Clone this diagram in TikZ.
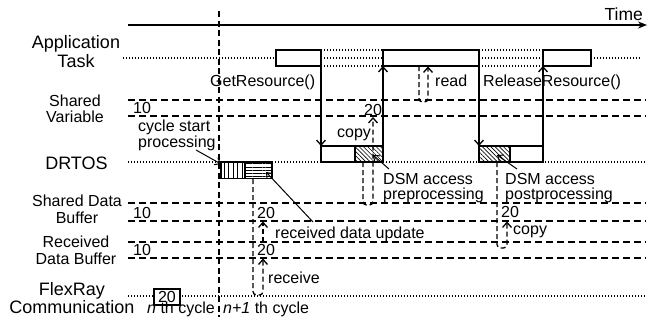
\documentclass[tikz,border=0pt]{standalone}
\usepackage{fontspec}
\setmainfont{Liberation Sans}
\usetikzlibrary{arrows.meta,patterns.meta}
\begin{document}
\begin{tikzpicture}[x=1pt,y=-1pt,
  biglabel/.style={font=\fontsize{18}{19}\selectfont, align=center, anchor=base, inner sep=0pt},
  midlabel/.style={font=\fontsize{16}{16.2}\selectfont, align=center, anchor=base, inner sep=0pt},
  note/.style={font=\fontsize{16}{15.5}\selectfont, align=left, anchor=base west, inner sep=0pt},
  lanedash/.style={line width=1.2pt, dash pattern=on 7pt off 4pt},
  lanedot/.style={line width=1.2pt, dash pattern=on 1.2pt off 1.8pt},
  boxstyle/.style={draw, line width=1.8pt, fill=white, anchor=north west, inner sep=0pt, outer sep=0pt},
  barb/.style={-{Straight Barb[length=5pt,width=9pt,line width=1.3pt]}},
  call/.style={line width=1.5pt, barb},
  flow/.style={line width=1.3pt, dash pattern=on 5pt off 3pt, rounded corners=3.5pt, barb},
  pointer/.style={line width=1pt, -{Straight Barb[length=5pt,width=8pt,line width=1pt]}},
  hatchD/.style={pattern={Lines[angle=-45,distance=3pt,line width=0.6pt]}},
  hatchV/.style={pattern={Lines[angle=90,distance=4.4pt,line width=0.8pt]}},
  hatchH/.style={pattern={Lines[angle=0,distance=3.3pt,line width=0.8pt]}}
]
\useasboundingbox (0,0) rectangle (652,322);

% time axis
\coordinate (ta) at (128,25);
\coordinate (tb) at (647,25);
\draw[line width=1.3pt, -{Stealth[length=9pt,width=7pt]}] (ta) -- (tb);
\node[biglabel, anchor=base east, font=\fontsize{17.5}{18}\selectfont] (time) at (643,20) {Time};

% cycle boundary
\coordinate (cb0) at (219,11);
\coordinate (cb1) at (219,317);
\draw[line width=1.2pt, dash pattern=on 6pt off 3.5pt] (cb0) -- (cb1);

% lane labels (anchored at the baseline of the last line)
\node[biglabel] (lapp) at (76,67) {Application\\Task};
\node[midlabel] (lsv) at (75,122.5) {Shared\\Variable};
\node[biglabel] (ldrtos) at (76.5,169) {DRTOS};
\node[midlabel] (lsdb) at (77,223) {Shared Data\\Buffer};
\node[midlabel] (lrdb) at (76,264) {Received\\Data Buffer};
\node[biglabel, font=\fontsize{18}{17.5}\selectfont] (lfr) at (72,313) {FlexRay\\Communication};

% shared variable lanes
\coordinate (sv1a) at (128,100); \coordinate (sv1b) at (646,100);
\coordinate (sv2a) at (128,116); \coordinate (sv2b) at (646,116);
\draw[lanedash] (sv1a) -- (sv1b);
\draw[lanedash] (sv2a) -- (sv2b);
% shared data buffer lanes
\coordinate (sd1a) at (128,203); \coordinate (sd1b) at (646,203);
\coordinate (sd2a) at (128,221); \coordinate (sd2b) at (646,221);
\draw[lanedash] (sd1a) -- (sd1b);
\draw[lanedash] (sd2a) -- (sd2b);
% received data buffer lanes
\coordinate (rd1a) at (128,242); \coordinate (rd1b) at (646,242);
\coordinate (rd2a) at (128,258); \coordinate (rd2b) at (646,258);
\draw[lanedash] (rd1a) -- (rd1b);
\draw[lanedash] (rd2a) -- (rd2b);
% DRTOS lane
\coordinate (dra) at (128,162); \coordinate (drb) at (646,162);
\draw[lanedot] (dra) -- (drb);
% FlexRay lane
\coordinate (fra) at (128,296); \coordinate (frb) at (646,296);
\draw[lanedot] (fra) -- (frb);

% application task lane
\coordinate (ap0) at (123,58);
\node[boxstyle, minimum width=45pt, minimum height=16pt] (task1) at (276,50) {};
\node[boxstyle, minimum width=96pt, minimum height=16pt] (task2) at (383,50) {};
\node[boxstyle, minimum width=48pt, minimum height=16pt] (task3) at (543,50) {};
\coordinate (ap9) at (641,58);
\draw[lanedot] (ap0) -- (task1.west);
\draw[lanedot] (task3.east) -- (ap9);
\draw[lanedot] (task1.north east) -- (task2.north west);
\draw[lanedot] (task1.east) -- (task2.west);
\draw[lanedot] (task1.south east) -- (task2.south west);
\draw[lanedot] (task2.north east) -- (task3.north west);
\draw[lanedot] (task2.east) -- (task3.west);
\draw[lanedot] (task2.south east) -- (task3.south west);

% DRTOS boxes
\node[boxstyle, minimum width=34pt, minimum height=16pt] (d1a) at (321,146) {};
\node[boxstyle, hatchD, minimum width=28pt, minimum height=16pt] (d1b) at (355,146) {};
\node[boxstyle, hatchD, minimum width=31pt, minimum height=16pt] (d2a) at (479,146) {};
\node[boxstyle, minimum width=33pt, minimum height=16pt] (d2b) at (510,146) {};
% cycle start processing boxes
\node[boxstyle, hatchV, minimum width=24pt, minimum height=16.5pt] (c1) at (221,162) {};
\node[boxstyle, hatchH, minimum width=27pt, minimum height=16.5pt] (c2) at (245,162) {};
% FlexRay frame
\node[draw, line width=1.8pt, fill=white, anchor=north west, inner sep=0pt,
      minimum width=26pt, minimum height=16pt, font=\fontsize{16}{16}\selectfont] (frame) at (153,288) {20};

% service calls
\draw[call] (task1.south east) -- (d1a.north west);
\draw[call] (d1b.north east) -- (task2.south west);
\draw[call] (task2.south east) -- (d2a.north west);
\draw[call] (d2b.north east) -- (task3.south west);

% data flows
\coordinate (rv0) at (253,179); \coordinate (rv1) at (253,295);
\coordinate (rv2) at (263,295); \coordinate (rv3) at (263,258.5);
\draw[flow] (rv0) -- (rv1) -- (rv2) -- (rv3);
\coordinate (up0) at (263,242); \coordinate (up1) at (263,221.5);
\draw[flow] (up0) -- (up1);
\coordinate (rd0) at (419,66); \coordinate (rdm1) at (419,102);
\coordinate (rdm2) at (428,102); \coordinate (rd3) at (428,66.5);
\draw[flow] (rd0) -- (rdm1) -- (rdm2) -- (rd3);
\coordinate (cp0) at (363,162); \coordinate (cp1) at (363,205);
\coordinate (cp2) at (373,205); \coordinate (cp3) at (373,117);
\draw[flow] (cp0) -- (cp1) -- (cp2) -- (cp3);
\coordinate (cq0) at (497,162); \coordinate (cq1) at (497,248);
\coordinate (cq2) at (507,248); \coordinate (cq3) at (507,221.5);
\draw[flow] (cq0) -- (cq1) -- (cq2) -- (cq3);

% values
\node[note] (v10a) at (133,113) {10};
\node[note] (v10b) at (133,218) {10};
\node[note] (v10c) at (133,255) {10};
\node[note] (v20a) at (364,115) {20};
\node[note] (v20b) at (257,218) {20};
\node[note] (v20c) at (257,255) {20};
\node[note] (v20d) at (501,217.5) {20};

% annotations (multi-line: anchored at the last line's baseline)
\node[note] (getres) at (210,86.5) {GetResource()};
\node[note] (relres) at (483,86.5) {ReleaseResource()};
\node[note] (read) at (435,86.5) {read};
\node[note] (copyA) at (337,137) {copy};
\node[note] (copyB) at (513,234) {copy};
\node[note] (receive) at (268,283) {receive};
\node[note] (rdupd) at (275,238.5) {received data update};
\node[note] (cyc) at (138,147) {cycle start\\processing};
\node[note] (pre) at (383,199.5) {DSM access\\preprocessing};
\node[note] (post) at (505,199.5) {DSM access\\postprocessing};
\node[note] (ncyc) at (147,313) {\textit{n} th cycle};
\node[note] (n1cyc) at (223,313) {\textit{n+1} th cycle};

% pointers
\coordinate (pc0) at (196,150); \coordinate (pc1) at (221,164);
\draw[pointer] (pc0) -- (pc1);
\coordinate (pu0) at (313,222); \coordinate (pu1) at (266,172);
\draw[pointer] (pu0) -- (pu1);
\coordinate (pp0) at (389,169); \coordinate (pp1) at (373,155);
\draw[pointer] (pp0) -- (pp1);
\coordinate (pq0) at (517,169); \coordinate (pq1) at (497,155);
\draw[pointer] (pq0) -- (pq1);
\end{tikzpicture}
\end{document}
